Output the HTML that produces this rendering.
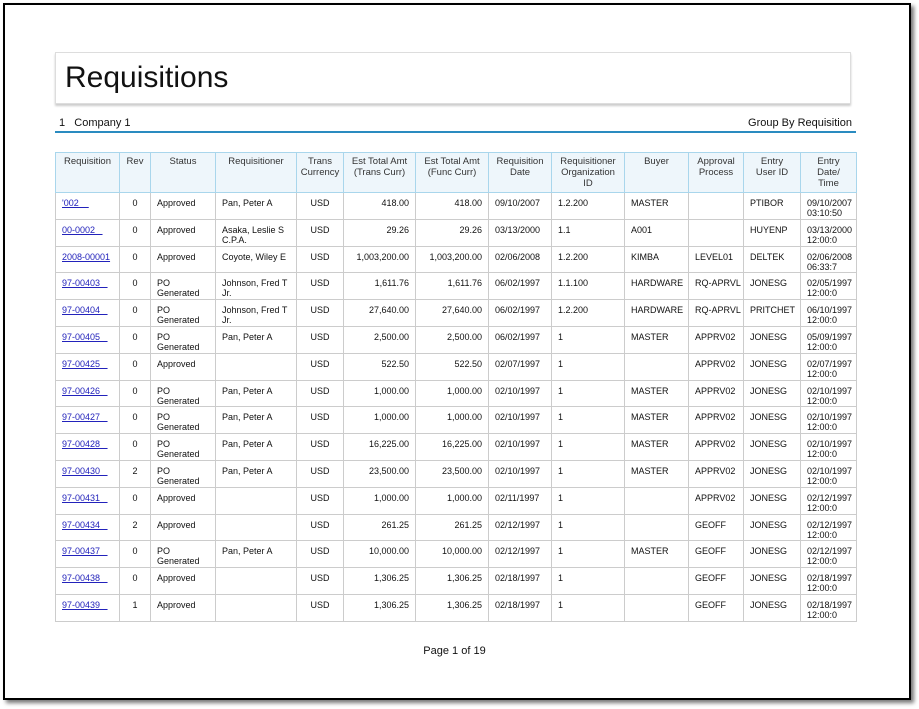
<!DOCTYPE html>
<html><head><meta charset="utf-8"><style>
*{margin:0;padding:0;box-sizing:border-box}
body{width:919px;height:709px;background:#fff;position:relative;overflow:hidden;font-family:"Liberation Sans",sans-serif}
.frame{position:absolute;left:3px;top:3px;width:908px;height:697px;border:2px solid #000;box-shadow:3px 3px 4px #777}
.title{position:absolute;left:55px;top:52px;width:796px;height:52px;border:1px solid #ddd;box-shadow:0 2px 2px #ccc;font-size:30px;padding-left:9px;line-height:50px;color:#111}
.grp{position:absolute;left:55px;top:116px;width:801px;height:17px;border-bottom:2px solid #2a8bc0;font-size:11px;color:#111}
.grp span{position:absolute;top:1px}
table{position:absolute;left:55px;top:152px;border-collapse:collapse;table-layout:fixed;width:801px;font-size:9px;color:#111}
td,th{border:1px solid #ccc;vertical-align:top;padding:5px 1px 0 6px;line-height:10px;height:26.8px;overflow:hidden}
th{background:#eef6fb;border:1px solid #a9d6ec;font-weight:normal;color:#333;height:40px;padding:3px 5px 0;text-align:center;font-size:9.5px;line-height:11px}
.c{text-align:center;padding-left:1px}.r{text-align:right;padding-right:6px}
a{color:#2222bb;text-decoration:underline;white-space:pre}
.pg{position:absolute;left:0;width:909px;top:645px;text-align:center;font-size:11px;color:#111}
</style></head><body>
<div class="frame"></div>
<div class="title">Requisitions</div>
<div class="grp"><span style="left:4px">1&nbsp;&nbsp; Company 1</span><span style="right:4px">Group By Requisition</span></div>
<table>
<colgroup><col style="width:64px"><col style="width:31px"><col style="width:65px"><col style="width:81px"><col style="width:47px"><col style="width:72px"><col style="width:73px"><col style="width:63px"><col style="width:73px"><col style="width:64px"><col style="width:55px"><col style="width:57px"><col style="width:56px"></colgroup>
<tr><th>Requisition</th><th>Rev</th><th>Status</th><th>Requisitioner</th><th style="padding:3px 1px 0">Trans Currency</th><th>Est Total Amt (Trans Curr)</th><th style="padding:3px 2px 0">Est Total Amt (Func Curr)</th><th>Requisition Date</th><th>Requisitioner Organization ID</th><th>Buyer</th><th>Approval Process</th><th style="padding:3px 10px 0">Entry User ID</th><th style="padding:3px 12px 0">Entry Date/ Time</th></tr>
<tr><td><a>'002    </a></td><td class="c">0</td><td>Approved</td><td>Pan, Peter A</td><td class="c">USD</td><td class="r">418.00</td><td class="r">418.00</td><td>09/10/2007</td><td>1.2.200</td><td>MASTER</td><td></td><td>PTIBOR</td><td>09/10/2007 03:10:50</td></tr>
<tr><td><a>00-0002   </a></td><td class="c">0</td><td>Approved</td><td>Asaka, Leslie S C.P.A.</td><td class="c">USD</td><td class="r">29.26</td><td class="r">29.26</td><td>03/13/2000</td><td>1.1</td><td>A001</td><td></td><td>HUYENP</td><td>03/13/2000 12:00:0</td></tr>
<tr><td><a>2008-00001</a></td><td class="c">0</td><td>Approved</td><td>Coyote, Wiley E</td><td class="c">USD</td><td class="r">1,003,200.00</td><td class="r">1,003,200.00</td><td>02/06/2008</td><td>1.2.200</td><td>KIMBA</td><td>LEVEL01</td><td>DELTEK</td><td>02/06/2008 06:33:7</td></tr>
<tr><td><a>97-00403   </a></td><td class="c">0</td><td>PO Generated</td><td>Johnson, Fred T Jr.</td><td class="c">USD</td><td class="r">1,611.76</td><td class="r">1,611.76</td><td>06/02/1997</td><td>1.1.100</td><td>HARDWARE</td><td>RQ-APRVL</td><td>JONESG</td><td>02/05/1997 12:00:0</td></tr>
<tr><td><a>97-00404   </a></td><td class="c">0</td><td>PO Generated</td><td>Johnson, Fred T Jr.</td><td class="c">USD</td><td class="r">27,640.00</td><td class="r">27,640.00</td><td>06/02/1997</td><td>1.2.200</td><td>HARDWARE</td><td>RQ-APRVL</td><td>PRITCHET</td><td>06/10/1997 12:00:0</td></tr>
<tr><td><a>97-00405   </a></td><td class="c">0</td><td>PO Generated</td><td>Pan, Peter A</td><td class="c">USD</td><td class="r">2,500.00</td><td class="r">2,500.00</td><td>06/02/1997</td><td>1</td><td>MASTER</td><td>APPRV02</td><td>JONESG</td><td>05/09/1997 12:00:0</td></tr>
<tr><td><a>97-00425   </a></td><td class="c">0</td><td>Approved</td><td></td><td class="c">USD</td><td class="r">522.50</td><td class="r">522.50</td><td>02/07/1997</td><td>1</td><td></td><td>APPRV02</td><td>JONESG</td><td>02/07/1997 12:00:0</td></tr>
<tr><td><a>97-00426   </a></td><td class="c">0</td><td>PO Generated</td><td>Pan, Peter A</td><td class="c">USD</td><td class="r">1,000.00</td><td class="r">1,000.00</td><td>02/10/1997</td><td>1</td><td>MASTER</td><td>APPRV02</td><td>JONESG</td><td>02/10/1997 12:00:0</td></tr>
<tr><td><a>97-00427   </a></td><td class="c">0</td><td>PO Generated</td><td>Pan, Peter A</td><td class="c">USD</td><td class="r">1,000.00</td><td class="r">1,000.00</td><td>02/10/1997</td><td>1</td><td>MASTER</td><td>APPRV02</td><td>JONESG</td><td>02/10/1997 12:00:0</td></tr>
<tr><td><a>97-00428   </a></td><td class="c">0</td><td>PO Generated</td><td>Pan, Peter A</td><td class="c">USD</td><td class="r">16,225.00</td><td class="r">16,225.00</td><td>02/10/1997</td><td>1</td><td>MASTER</td><td>APPRV02</td><td>JONESG</td><td>02/10/1997 12:00:0</td></tr>
<tr><td><a>97-00430   </a></td><td class="c">2</td><td>PO Generated</td><td>Pan, Peter A</td><td class="c">USD</td><td class="r">23,500.00</td><td class="r">23,500.00</td><td>02/10/1997</td><td>1</td><td>MASTER</td><td>APPRV02</td><td>JONESG</td><td>02/10/1997 12:00:0</td></tr>
<tr><td><a>97-00431   </a></td><td class="c">0</td><td>Approved</td><td></td><td class="c">USD</td><td class="r">1,000.00</td><td class="r">1,000.00</td><td>02/11/1997</td><td>1</td><td></td><td>APPRV02</td><td>JONESG</td><td>02/12/1997 12:00:0</td></tr>
<tr><td><a>97-00434   </a></td><td class="c">2</td><td>Approved</td><td></td><td class="c">USD</td><td class="r">261.25</td><td class="r">261.25</td><td>02/12/1997</td><td>1</td><td></td><td>GEOFF</td><td>JONESG</td><td>02/12/1997 12:00:0</td></tr>
<tr><td><a>97-00437   </a></td><td class="c">0</td><td>PO Generated</td><td>Pan, Peter A</td><td class="c">USD</td><td class="r">10,000.00</td><td class="r">10,000.00</td><td>02/12/1997</td><td>1</td><td>MASTER</td><td>GEOFF</td><td>JONESG</td><td>02/12/1997 12:00:0</td></tr>
<tr><td><a>97-00438   </a></td><td class="c">0</td><td>Approved</td><td></td><td class="c">USD</td><td class="r">1,306.25</td><td class="r">1,306.25</td><td>02/18/1997</td><td>1</td><td></td><td>GEOFF</td><td>JONESG</td><td>02/18/1997 12:00:0</td></tr>
<tr><td><a>97-00439   </a></td><td class="c">1</td><td>Approved</td><td></td><td class="c">USD</td><td class="r">1,306.25</td><td class="r">1,306.25</td><td>02/18/1997</td><td>1</td><td></td><td>GEOFF</td><td>JONESG</td><td>02/18/1997 12:00:0</td></tr>
</table>
<div class="pg">Page 1 of 19</div>
</body></html>
